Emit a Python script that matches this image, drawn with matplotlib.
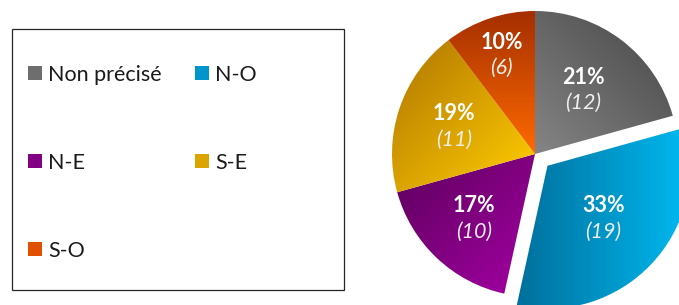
import numpy as np
import matplotlib
matplotlib.use('Agg')
import matplotlib.pyplot as plt
from matplotlib.patches import Rectangle
from matplotlib.lines import Line2D
from matplotlib.colors import to_rgb

# ---- data ----
categories = ['Non précisé', 'N-O', 'N-E', 'S-E', 'S-O']
counts = [12, 19, 10, 11, 6]

# ---- style ----
explode = [0, 0.12, 0, 0, 0]
grad_from = ['#858585', '#006f9b', '#660066', '#bd8400', '#a52f00']
grad_to = ['#565656', '#00bbf3', '#9c009c', '#f8c400', '#ff6a00']
grad_angle = [45, 0, -45, -45, -90]
legend_colors = ['#6e6e6e', '#0096cc', '#820082', '#dca400', '#e05000']
label_r = [0.56, 0.54, 0.62, 0.60, 0.73]

FONT = ['Lato', 'DejaVu Sans']
plt.rcParams['font.family'] = FONT

W, H, DPI = 679, 305, 100
fig = plt.figure(figsize=(W / DPI, H / DPI), dpi=DPI)

# pie axes: center (535,154) px, radius 143 px; axes spans +-1.3 radius
cx, cy, R, L = 535, 154, 143, 1.3
half = R * L
ax = fig.add_axes([(cx - half) / W, (H - cy - half) / H, 2 * half / W, 2 * half / H])

wedges, _ = ax.pie(counts, startangle=90, counterclock=False, explode=explode,
                   radius=1, wedgeprops=dict(linewidth=0))
ax.set_xlim(-L, L)
ax.set_ylim(-L, L)
ax.set_aspect('equal')
ax.axis('off')

total = float(sum(counts))
cum = 0.0
for i, w in enumerate(wedges):
    w.set_facecolor('none')
    verts = w.get_path().vertices
    xmin, ymin = verts.min(axis=0)
    xmax, ymax = verts.max(axis=0)
    a = np.deg2rad(grad_angle[i])
    d = np.array([np.cos(a), np.sin(a)])
    p = verts @ d
    pmin, pmax = p.min(), p.max()
    xs = np.linspace(xmin, xmax, 300)
    ys = np.linspace(ymin, ymax, 300)
    X, Y = np.meshgrid(xs, ys)
    t = np.clip(((X * d[0] + Y * d[1]) - pmin) / (pmax - pmin), 0, 1)[..., None]
    c0 = np.array(to_rgb(grad_from[i]))
    c1 = np.array(to_rgb(grad_to[i]))
    img = c0 * (1 - t) + c1 * t
    im = ax.imshow(img, extent=(xmin, xmax, ymin, ymax), origin='lower',
                   interpolation='bilinear', zorder=1)
    im.set_clip_path(w)

    # labels
    frac = counts[i] / total
    theta = np.deg2rad(90 - 360 * (cum + frac / 2))
    cum += frac
    px = w.center[0] + label_r[i] * np.cos(theta)
    py = w.center[1] + label_r[i] * np.sin(theta)
    ax.annotate(f'{round(100 * frac)}%', (px, py), xytext=(0, 9.4),
                textcoords='offset points', ha='center', va='center',
                color='white', fontsize=15.5, fontweight='bold', zorder=5)
    ax.annotate(f'({counts[i]})', (px, py), xytext=(0, -9.4),
                textcoords='offset points', ha='center', va='center',
                color='#eeeeee', fontsize=15.5, fontstyle='italic', zorder=5)

ax.set_xlim(-L, L)
ax.set_ylim(-L, L)

# legend frame
fig.patches.append(Rectangle((12 / W, (H - 290) / H), 332 / W, 261 / H,
                             transform=fig.transFigure, fill=False,
                             edgecolor='#262626', linewidth=0.9))

handles = [Line2D([], [], marker='s', linestyle='none', markersize=9.4,
                  markerfacecolor=c, markeredgewidth=0, label=lab)
           for c, lab in zip(legend_colors, categories)]
order = [0, 2, 4, 1, 3]
fig.legend([handles[k] for k in order], [categories[k] for k in order],
           ncol=2, loc='upper left', bbox_to_anchor=(28 / W, (H - 65) / H),
           frameon=False, fontsize=15.5, labelspacing=3.15, columnspacing=1.53,
           handlelength=0.62, handletextpad=0.33, borderpad=0, borderaxespad=0,
           labelcolor='#1a1a1a')

fig.savefig('out.png', dpi=DPI)
